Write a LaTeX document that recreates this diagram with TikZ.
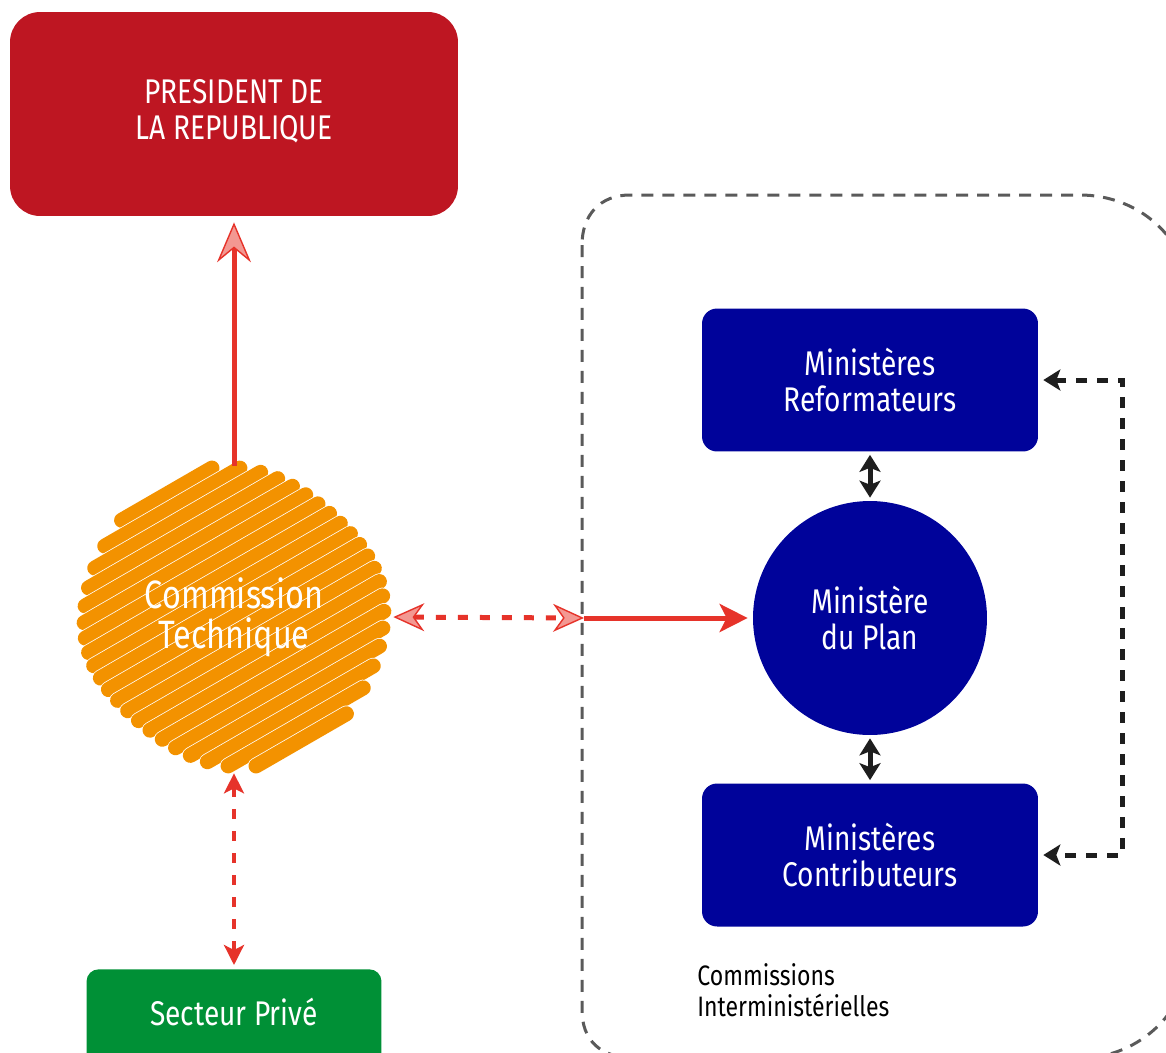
\documentclass[tikz,border=0pt]{standalone}
\usepackage{fontspec}
\setmainfont[FakeStretch=0.82]{Fira Sans}
\usetikzlibrary{arrows.meta, positioning}

\definecolor{presred}{RGB}{190,22,34}
\definecolor{linered}{RGB}{230,51,42}
\definecolor{headpink}{RGB}{243,152,146}
\definecolor{scribble}{RGB}{243,146,0}
\definecolor{minblue}{RGB}{0,3,154}
\definecolor{privgreen}{RGB}{0,144,54}
\definecolor{groupgray}{RGB}{90,90,90}
\definecolor{loopblack}{RGB}{30,30,30}

\begin{document}
\begin{tikzpicture}[x=0.02cm, y=-0.02cm,
	box/.style={rectangle, inner sep=0pt, text=white, align=center,
		font=\fontsize{19.5}{20.5}\selectfont},
	minbox/.style={box, fill=minblue, rounded corners=0.3cm,
		minimum width=6.72cm, minimum height=2.86cm},
	redline/.style={draw=linered, line width=0.1cm},
	reddash/.style={redline, dash pattern=on 0.2cm off 0.24cm},
	pinktip/.tip={Stealth[length=0.8cm, width=0.68cm, inset=0.28cm,
		fill=headpink, line width=0.8pt]},
	smalltip/.tip={Stealth[length=0.62cm, width=0.56cm, inset=0.2cm,
		fill=headpink, line width=0.8pt]},
	redtip/.tip={Stealth[length=0.56cm, width=0.56cm, inset=0.14cm]},
	dashtip/.tip={Stealth[length=0.4cm, width=0.4cm, inset=0.1cm]},
	blacktip/.tip={Stealth[length=0.34cm, width=0.42cm, inset=0.08cm]},
	strokeedge/.style={draw=white, line width=0.33cm, line cap=round},
	stroke/.style={draw=scribble, line width=0.3cm, line cap=round}]

\useasboundingbox (0,0) rectangle (1166,1052);
\clip (0,0) rectangle (1166,1052);

% dashed group round the ministries
\draw[groupgray, line width=0.06cm, dash pattern=on 0.24cm off 0.18cm]
	(582,245) -- (582,1010) .. controls (582,1040) and (600,1058) ..
	(635,1058) -- (1080,1058) .. controls (1140,1058) and (1190,1010) ..
	(1190,950) -- (1190,300) .. controls (1190,240) and (1140,195) ..
	(1080,195) -- (630,195) .. controls (600,195) and (582,215) ..
	(582,245);

\node[box, fill=presred, rounded corners=0.6cm, minimum width=8.96cm,
	minimum height=4.08cm] (pres) at (234,114)
	{\raisebox{-0.14cm}{\begin{tabular}{@{}c@{}}PRESIDENT DE\\LA REPUBLIQUE\end{tabular}}};

% scribbled circle
\node[circle, minimum size=6.04cm, inner sep=0pt] (comm) at (234,617) {};
\begin{scope}[shift={(234,617)}, rotate=30]
\foreach \d in {-140,-126,...,140} {
	\pgfmathsetmacro\h{10*sqrt(231.04-(\d/10)^2)-7}
	\pgfmathsetmacro\j{5*sin(\d*53)}
	\draw[strokeedge] (-\h+\j,\d) -- (\h+\j,\d);
	\draw[stroke] (-\h+\j,\d) -- (\h+\j,\d);
}
\end{scope}
\node[box, font=\fontsize{22.5}{23}\selectfont] (commtext) at (comm.center)
	{Commission\\Technique};

\node[minbox] (refo) at (870,380) {Ministères\\Reformateurs};
\node[box, circle, fill=minblue, minimum size=4.68cm] (plan) at (870,618)
	{Ministère\\du Plan};
\node[minbox] (contr) at (870,855) {Ministères\\Contributeurs};

\node[box, fill=privgreen, rounded corners=0.24cm, minimum width=5.9cm,
	minimum height=2cm, anchor=north] (priv) at (234,969)
	{\raisebox{0.3cm}{Secteur Privé}};

\node[anchor=north west, align=left, inner sep=0pt,
	font=\fontsize{16}{17.5}\selectfont] (group) at (697,963)
	{Commissions\\Interministérielles};

\coordinate (gate) at (584,618);
\coordinate (loop) at (1122,618);

% connectors
\draw[redline, -{pinktip}, shorten >=0.12cm] (comm.north) -- (pres.south);
\draw[redline, -{redtip}, shorten >=0.1cm] (gate) -- (plan.west);
\draw[reddash, {smalltip}-{smalltip}, shorten <=0.16cm] (comm.east) -- (gate);
\draw[reddash, line width=0.09cm, {dashtip}-{dashtip},
	shorten <=0.1cm, shorten >=0.08cm] (comm.south) -- (priv.north);

\draw[loopblack, line width=0.1cm, {blacktip}-{blacktip},
	shorten <=0.06cm, shorten >=0.06cm] (refo.south) -- (plan.north);
\draw[loopblack, line width=0.1cm, {blacktip}-{blacktip},
	shorten <=0.06cm, shorten >=0.06cm] (plan.south) -- (contr.north);
\draw[loopblack, line width=0.1cm, dash pattern=on 0.22cm off 0.2cm,
	{blacktip}-{blacktip}, shorten <=0.1cm, shorten >=0.1cm]
	(refo.east) -| (loop) |- (contr.east);

\end{tikzpicture}
\end{document}
